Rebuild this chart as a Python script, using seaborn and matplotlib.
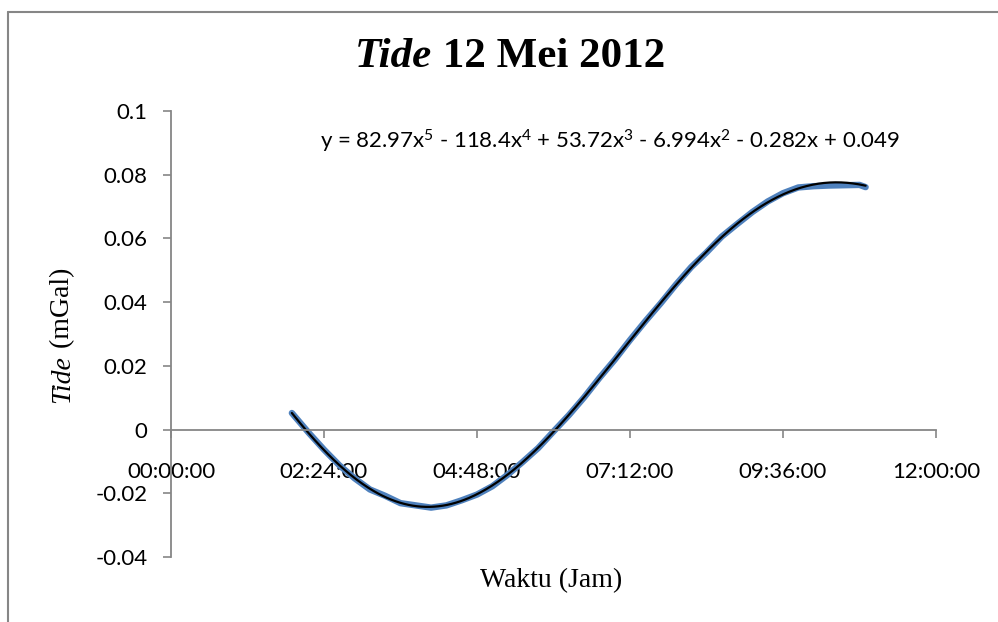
import numpy as np
import pandas as pd
import matplotlib
matplotlib.use("Agg")
import matplotlib.pyplot as plt
from matplotlib.lines import Line2D
import seaborn as sns

# Observed tide correction; time as a fraction of one day
waktu_hari = [0.079, 0.09, 0.10, 0.11, 0.12, 0.13, 0.14, 0.15, 0.16, 0.17,
              0.18, 0.19, 0.20, 0.21, 0.22, 0.23, 0.24, 0.25, 0.26, 0.27,
              0.28, 0.29, 0.30, 0.31, 0.32, 0.33, 0.34, 0.35, 0.36, 0.37,
              0.38, 0.39, 0.40, 0.41, 0.42, 0.43, 0.44, 0.45, 0.454]
tide_mgal = [0.0052, -0.0010, -0.0063, -0.0112, -0.0153, -0.0188, -0.0208, -0.0231, -0.0238, -0.0245,
             -0.0238, -0.0222, -0.0204, -0.0178, -0.0142, -0.0101, -0.0058, -0.0006, 0.0045, 0.0101,
             0.0162, 0.0219, 0.0281, 0.0340, 0.0396, 0.0455, 0.0510, 0.0556, 0.0606, 0.0645,
             0.0683, 0.0716, 0.0742, 0.0760, 0.0764, 0.0766, 0.0767, 0.0768, 0.0761]

# 5th-order polynomial trend (x in days), highest power first
koef_trend = [82.97, -118.4, 53.72, -6.994, -0.282, 0.049]
persamaan = ("y = 82.97x$^5$ - 118.4x$^4$ + 53.72x$^3$ - 6.994x$^2$"
             " - 0.282x + 0.049")

xtick_pos = [0.0, 0.1, 0.2, 0.3, 0.4, 0.5]
xtick_labels = ["00:00:00", "02:24:00", "04:48:00", "07:12:00", "09:36:00", "12:00:00"]
ytick_pos = [-0.04, -0.02, 0.0, 0.02, 0.04, 0.06, 0.08, 0.1]
ytick_labels = ["-0.04", "-0.02", "0", "0.02", "0.04", "0.06", "0.08", "0.1"]

sns.set_theme(style="white")
plt.rcParams["font.family"] = ["Lato", "DejaVu Sans"]
plt.rcParams["mathtext.fontset"] = "custom"
plt.rcParams["mathtext.rm"] = "Lato"
plt.rcParams["mathtext.it"] = "Lato:italic"
plt.rcParams["mathtext.bf"] = "Lato:bold"

W, H = 998, 622
fig = plt.figure(figsize=(W / 100, H / 100), dpi=100)
fig.patch.set_facecolor("white")

def fx(px):
    return px / W

def fy(py):
    return 1 - py / H

ax = fig.add_axes([fx(171), fy(557), fx(936) - fx(171), fy(111) - fy(557)])
ax.set_facecolor("white")

data = pd.DataFrame({"waktu": waktu_hari, "tide": tide_mgal})
sns.lineplot(data=data, x="waktu", y="tide", ax=ax, color="#4F81BD",
             linewidth=4.6, estimator=None, sort=True,
             solid_capstyle="round", solid_joinstyle="round")

xs = np.linspace(min(waktu_hari), max(waktu_hari), 400)
trend = pd.DataFrame({"waktu": xs, "tide": np.polyval(koef_trend, xs)})
sns.lineplot(data=trend, x="waktu", y="tide", ax=ax, color="black",
             linewidth=1.6, estimator=None)

ax.set_xlim(0, 0.5)
ax.set_ylim(-0.04, 0.1)
ax.set_xticks(xtick_pos)
ax.set_xticklabels(xtick_labels)
ax.set_yticks(ytick_pos)
ax.set_yticklabels(ytick_labels)
ax.set_xlabel("")
ax.set_ylabel("")

axis_grey = "#868686"
for side in ("top", "right"):
    ax.spines[side].set_visible(False)
ax.spines["bottom"].set_position(("data", 0))
for side in ("left", "bottom"):
    ax.spines[side].set_color(axis_grey)
    ax.spines[side].set_linewidth(1.3)
ax.tick_params(axis="y", direction="out", length=6, width=1.2, color=axis_grey,
               pad=11, labelsize=16, labelcolor="black", left=True)
ax.tick_params(axis="x", direction="out", length=6, width=1.2, color=axis_grey,
               pad=17, labelsize=16, labelcolor="black", bottom=True)
ax.grid(False)

# trendline equation
fig.text(fx(320), fy(148), persamaan, ha="left", va="baseline",
         fontsize=16, color="black")

serif = ["Liberation Serif", "DejaVu Serif"]


def rich_text(pieces, x_px, y_px, rotation=0, center=True):
    """Lay out differently styled pieces along one baseline."""
    renderer = fig.canvas.get_renderer()
    made = []
    for s, props in pieces:
        t = fig.text(0, 0, s, ha="left", va="baseline", rotation=rotation,
                     rotation_mode="anchor", family=serif, color="black", **props)
        made.append(t)
    sizes = []
    for t in made:
        bb = t.get_window_extent(renderer)
        sizes.append(bb.height if rotation == 90 else bb.width)
    total = sum(sizes)
    pos = (x_px - total / 2) if (center and rotation == 0) else x_px
    if rotation == 90:
        pos = y_px + total / 2 if center else y_px
    for t, s in zip(made, sizes):
        if rotation == 90:
            t.set_position((fx(x_px), fy(pos)))
            pos -= s
        else:
            t.set_position((fx(pos), fy(y_px)))
            pos += s
    return made


rich_text([("Tide", dict(fontsize=31, fontweight="bold", style="italic")),
           (" 12 Mei 2012", dict(fontsize=31, fontweight="bold"))],
          510, 67)
rich_text([("Waktu (Jam)", dict(fontsize=20))], 551, 587)
rich_text([("Tide", dict(fontsize=20, style="italic")),
           (" (mGal)", dict(fontsize=20))],
          69, 335, rotation=90)

# chart-area border
fig.add_artist(Line2D([fx(8), fx(8)], [0, fy(12)], transform=fig.transFigure,
                      color=axis_grey, linewidth=1.5))
fig.add_artist(Line2D([fx(8), 1], [fy(12), fy(12)], transform=fig.transFigure,
                      color=axis_grey, linewidth=1.5))

fig.savefig("out.png", dpi=100, facecolor="white")
